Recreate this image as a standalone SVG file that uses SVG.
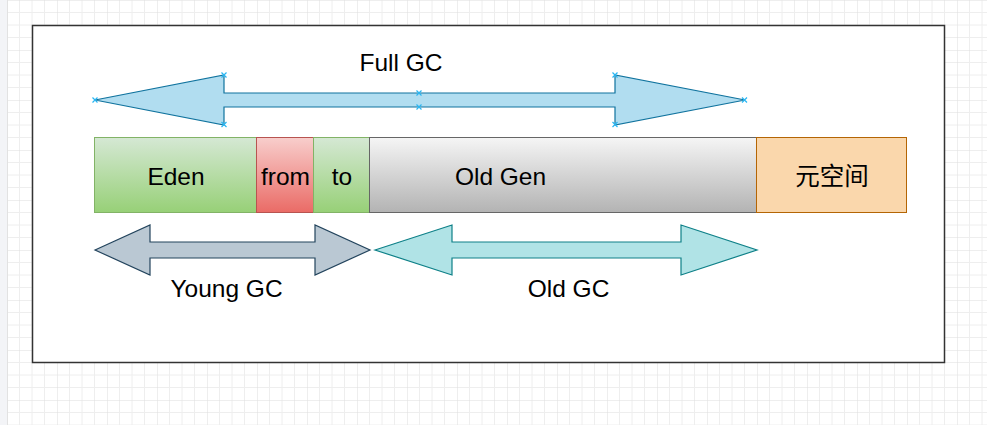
<svg xmlns="http://www.w3.org/2000/svg" width="987" height="425" viewBox="0 0 987 425">
<defs>
<pattern id="grid" patternUnits="userSpaceOnUse" x="7" y="0" width="50" height="50">
<path d="M12.5 0V50M25 0V50M37.5 0V50M0 12.5H50M0 25H50M0 37.5H50" stroke="#eeeeee" stroke-width="1" fill="none"/>
<path d="M0 0V50M0 0H50" stroke="#dedede" stroke-width="1" fill="none"/>
</pattern>
<linearGradient id="gGreen" x1="0" y1="0" x2="0" y2="1"><stop offset="0" stop-color="#d5e8d4"/><stop offset="1" stop-color="#97d077"/></linearGradient>
<linearGradient id="gRed" x1="0" y1="0" x2="0" y2="1"><stop offset="0" stop-color="#f8cecc"/><stop offset="1" stop-color="#ea6b66"/></linearGradient>
<linearGradient id="gGray" x1="0" y1="0" x2="0" y2="1"><stop offset="0" stop-color="#f5f5f5"/><stop offset="1" stop-color="#b3b3b3"/></linearGradient>
</defs>
<style>
.lbl{font-family:"Liberation Sans",Arial,sans-serif;font-size:24.5px;fill:#000;text-anchor:middle}
.cjk{font-family:"Liberation Sans","Noto Sans CJK SC",sans-serif;font-size:24.5px;fill:#000;text-anchor:middle}
.hdl{stroke:#29b6f2;stroke-width:1.2;fill:none}
</style>
<rect x="0" y="0" width="987" height="425" fill="#ffffff"/>
<rect x="0" y="0" width="987" height="425" fill="url(#grid)"/>
<rect x="0" y="0" width="7" height="425" fill="#f3f4f7"/>
<line x1="7.5" y1="0" x2="7.5" y2="425" stroke="#e2e2e2"/>
<g id="frame"><rect x="32.5" y="25.5" width="912" height="337" fill="#ffffff" stroke="#333333" stroke-width="1.5"/></g>
<g id="eden"><rect x="94.5" y="137.5" width="162" height="75" fill="url(#gGreen)" stroke="#82b366"/><text class="lbl" x="176" y="185">Eden</text></g>
<g id="from"><rect x="256.5" y="137.5" width="57" height="75" fill="url(#gRed)" stroke="#b85450"/><text class="lbl" x="285.5" y="185">from</text></g>
<g id="to"><rect x="313.5" y="137.5" width="56" height="75" fill="url(#gGreen)" stroke="#82b366"/><text class="lbl" x="342" y="185">to</text></g>
<g id="oldgen"><rect x="369.5" y="137.5" width="387" height="75" fill="url(#gGray)" stroke="#666666"/><text class="lbl" x="500.5" y="185">Old Gen</text></g>
<g id="meta"><rect x="756.5" y="137.5" width="150" height="75" fill="#fad7ac" stroke="#b46504"/><text class="cjk" x="832" y="185">元空间</text></g>
<g id="connectors">
<g id="fullgc">
<path d="M95 100L224 75V93H615V75L745 100L615 125V107H224V125Z" fill="#b1ddf0" stroke="#10739e" stroke-width="1.2" stroke-linejoin="miter"/>
<path class="hdl" d="M92.5 97.5l5 5m0-5l-5 5M221.5 72.5l5 5m0-5l-5 5M221.5 122l5 5m0-5l-5 5M416.5 90.5l5 5m0-5l-5 5M416.5 104.5l5 5m0-5l-5 5M612.5 72.5l5 5m0-5l-5 5M612.5 122l5 5m0-5l-5 5M742 97.5l5 5m0-5l-5 5"/>
<text class="lbl" x="401" y="71">Full GC</text>
</g>
<g id="younggc">
<path d="M95 250L150 225V242H315V225L370 250L315 275V258H150V275Z" fill="#bac8d3" stroke="#23445d" stroke-width="1.2"/>
<text class="lbl" x="226.5" y="297">Young GC</text>
</g>
<g id="oldgc">
<path d="M375 250L452 225V242H681V225L757 250L681 275V258H452V275Z" fill="#b0e3e6" stroke="#0e8088" stroke-width="1.2"/>
<text class="lbl" x="568.5" y="297">Old GC</text>
</g>
</g>
</svg>
